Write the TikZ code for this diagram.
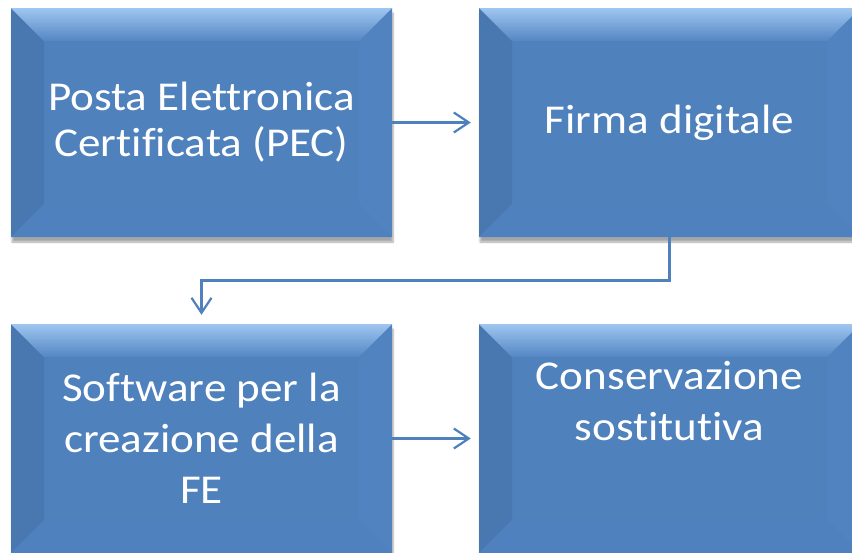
\documentclass[tikz,border=0pt]{standalone}
\usepackage{fontspec}
\setmainfont{Carlito}[FakeStretch=1.1, Ligatures={NoCommon}]
\usetikzlibrary{arrows.meta,calc,shadows.blur}

\definecolor{faceblue}{RGB}{79,129,189}
\definecolor{bevtop}{RGB}{158,198,240}
\definecolor{bevtopdark}{RGB}{84,134,196}
\definecolor{bevleft}{RGB}{73,120,177}
\definecolor{bevright}{RGB}{81,131,192}
\definecolor{bevbottom}{RGB}{79,129,190}
\definecolor{lineblue}{RGB}{79,129,189}

\begin{document}
\begin{tikzpicture}[x=1pt,y=-1pt,
    panel/.style={minimum width=381pt, minimum height=229pt, inner sep=0pt,
        fill=faceblue, text=white, align=center,
        font=\fontsize{41}{46}\selectfont,
        blur shadow={shadow xshift=1pt, shadow yshift=-5pt, shadow blur steps=6, shadow opacity=35},
        path picture={
            \path (path picture bounding box.north west) coordinate (bnw)
                  (path picture bounding box.north east) coordinate (bne)
                  (path picture bounding box.south west) coordinate (bsw)
                  (path picture bounding box.south east) coordinate (bse);
            % bevel edges
            \fill[bevleft] (bnw) -- ++(33pt,-33pt) -- ([shift={(33pt,33pt)}]bsw) -- (bsw) -- cycle;
            \fill[bevright] (bne) -- ++(-33pt,-33pt) -- ([shift={(-33pt,33pt)}]bse) -- (bse) -- cycle;
            \fill[bevbottom] (bsw) -- ++(33pt,33pt) -- ([shift={(-33pt,33pt)}]bse) -- (bse) -- cycle;
            \fill[top color=bevtop, bottom color=bevtopdark]
                (bnw) -- ++(33pt,-33pt) -- ([shift={(-33pt,-33pt)}]bne) -- (bne) -- cycle;
        }},
    loose/.style={font=\fontsize{41}{51}\selectfont},
    link/.style={draw=lineblue, line width=2.2pt, -{Straight Barb[length=15pt,width=20pt]}}]

    \useasboundingbox (0,0) rectangle (852,552);
    \clip (0,0) rectangle (852,552);

    % Draw the four steps
    \node[panel] (pec) at (201.5,122.5) {Posta Elettronica\\Certificata (PEC)};
    \node[panel] (firma) at (669.5,122.5) {Firma digitale};
    \node[panel, loose] (soft) at (201.5,438.5) {Software per la\\creazione della\\FE};
    \node[panel, loose, text=faceblue,
        label={[name=consText, text=white, align=center, loose, yshift=37pt]center:Conservazione\\sostitutiva}]
        (cons) at (669.5,438.5) {};

    % Add connectors
    \draw[link, shorten >=8pt] (pec.east) -- (firma.west);
    \draw[link, shorten >=9pt] (firma.south) |- ($(firma.south)!.5!(soft.north)$) -| (soft.north);
    \draw[link, shorten >=8pt] (soft.east) -- (cons.west);
\end{tikzpicture}
\end{document}
